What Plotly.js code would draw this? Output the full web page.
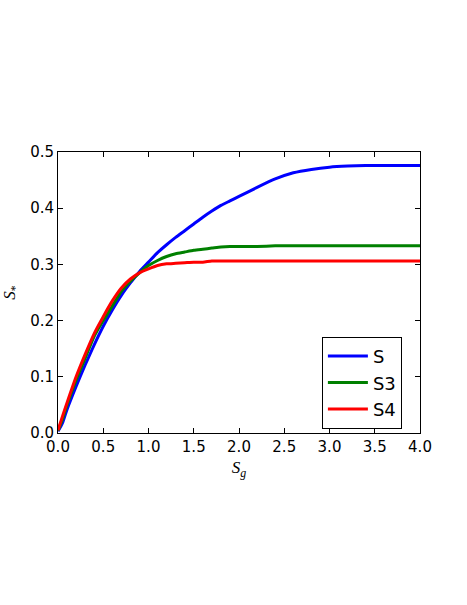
<!DOCTYPE html>
<html>
<head>
<meta charset="utf-8">
<script src="https://cdn.plot.ly/plotly-3.0.1.min.js"></script>
<style>html,body{margin:0;padding:0;background:#fff;}#chart{width:467px;height:605px;}</style>
</head>
<body>
<div id="chart"></div>
<script>
const sg = [0, 0.05, 0.1, 0.2, 0.3, 0.4, 0.5, 0.6, 0.7, 0.8, 0.9, 1.0, 1.1, 1.2, 1.3, 1.4, 1.5, 1.6, 1.7, 1.8, 1.9, 2.0, 2.2, 2.4, 2.6, 2.8, 3.0, 3.2, 3.4, 3.6, 3.8, 4.0];
const sS  = [0.003, 0.018, 0.042, 0.083, 0.121, 0.157, 0.19, 0.219, 0.245, 0.267, 0.287, 0.304, 0.321, 0.335, 0.348, 0.36, 0.372, 0.384, 0.395, 0.405, 0.413, 0.421, 0.437, 0.452, 0.463, 0.469, 0.473, 0.475, 0.476, 0.476, 0.476, 0.476];
const sS3 = [0.004, 0.025, 0.05, 0.094, 0.133, 0.172, 0.2, 0.226, 0.252, 0.27, 0.285, 0.298, 0.307, 0.314, 0.319, 0.322, 0.325, 0.327, 0.329, 0.331, 0.332, 0.332, 0.332, 0.333, 0.333, 0.333, 0.333, 0.333, 0.333, 0.333, 0.333, 0.333];
const sS4 = [0.005, 0.03, 0.054, 0.1, 0.14, 0.177, 0.207, 0.235, 0.258, 0.274, 0.285, 0.292, 0.298, 0.301, 0.302, 0.303, 0.304, 0.304, 0.306, 0.306, 0.306, 0.306, 0.306, 0.306, 0.306, 0.306, 0.306, 0.306, 0.306, 0.306, 0.306, 0.306];
const names = ["S", "S3", "S4"];
const colors = ["#0000ff", "#008000", "#ff0000"];
const series = [sS, sS3, sS4];

const traces = series.map((y, i) => ({
  x: sg, y: y, name: names[i], type: "scatter", mode: "lines",
  line: {color: colors[i], width: 3, shape: "spline", smoothing: 0.6}
}));

const axisBase = {
  showline: true, linecolor: "#000", linewidth: 1, mirror: "ticks",
  ticks: "inside", ticklen: 5, tickcolor: "#000", tickwidth: 1,
  showgrid: false, zeroline: false,
  tickfont: {family: "DejaVu Sans", size: 15, color: "#000"}
};

const layout = {
  width: 467, height: 605,
  margin: {l: 58, r: 47, t: 152, b: 172},
  paper_bgcolor: "#fff", plot_bgcolor: "#fff",
  showlegend: true,
  xaxis: Object.assign({}, axisBase, {
    range: [0, 4], tickvals: [0, 0.5, 1, 1.5, 2, 2.5, 3, 3.5, 4],
    ticktext: ["0.0", "0.5", "1.0", "1.5", "2.0", "2.5", "3.0", "3.5", "4.0"],
    title: {text: "<i>S</i><sub><i>g</i></sub>", font: {family: "Liberation Serif", size: 17, color: "#000"}, standoff: 6}
  }),
  yaxis: Object.assign({}, axisBase, {
    range: [0, 0.5], tickvals: [0, 0.1, 0.2, 0.3, 0.4, 0.5],
    ticktext: ["0.0", "0.1", "0.2", "0.3", "0.4", "0.5"],
    title: {text: "<i>S</i><sub>*</sub>", font: {family: "Liberation Serif", size: 17, color: "#000"}, standoff: 10}
  }),
  legend: {
    x: 0.729, y: 0.342, xanchor: "left", yanchor: "top",
    bordercolor: "#000", borderwidth: 1, bgcolor: "#fff",
    font: {family: "DejaVu Sans", size: 18, color: "#000"},
    itemwidth: 40, entrywidth: 78, entrywidthmode: "pixels"
  }
};

Plotly.newPlot("chart", traces, layout, {displayModeBar: false, staticPlot: true});
</script>
</body>
</html>
